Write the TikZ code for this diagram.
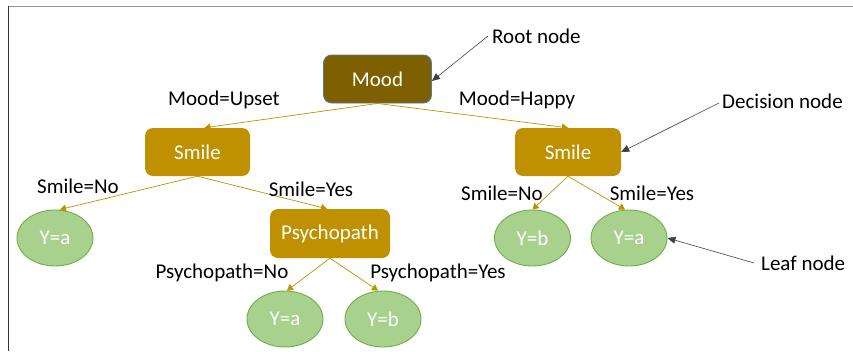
\documentclass[tikz,border=0pt]{standalone}
\usepackage{fontspec}
\setmainfont{Carlito}
\usetikzlibrary{arrows.meta,shapes.geometric}
\definecolor{darkgold}{HTML}{7F6000}
\definecolor{gold}{HTML}{BF9000}
\definecolor{leaffill}{HTML}{A9D18E}
\definecolor{leafedge}{HTML}{70AD47}
\definecolor{rootedge}{HTML}{5B7C99}
\begin{document}
\begin{tikzpicture}[x=1pt,y=-1pt,
  font=\fontsize{21}{24}\selectfont,
  decbox/.style={rectangle,rounded corners=8pt,fill=gold,text=white,inner sep=0pt},
  leaf/.style={ellipse,fill=leaffill,draw=leafedge,line width=0.9pt,text=white,
    minimum width=76pt,minimum height=56pt,inner sep=0pt},
  branch/.style={draw=gold,line width=0.7pt,-{Triangle[width=7pt,length=6pt]}},
  note/.style={draw=black!75,line width=0.6pt,-{Triangle[width=7pt,length=8pt]}},
  lbl/.style={inner sep=0pt,text=black}]
\useasboundingbox (0,0) rectangle (853,351);
% frame
\draw[gray!85,line width=1.4pt] (8,6.5) -- (853,6.5);
\draw[black!80,line width=1.2pt] (8.3,6) -- (8.3,351);

% decision nodes
\node[decbox,fill=darkgold,draw=rootedge,line width=0.9pt,minimum width=108pt,minimum height=48pt] (mood) at (377.5,79) {Mood};
\node[decbox,minimum width=105pt,minimum height=48pt] (smileL) at (197.5,152) {Smile};
\node[decbox,minimum width=106pt,minimum height=48pt] (smileR) at (568,152) {Smile};
\node[decbox,minimum width=120pt,minimum height=49pt] (psy) at (330,233.5) {Psychopath};

% leaves
\node[leaf] (leafA) at (55,238) {Y=a};
\node[leaf] (leafB) at (532.5,238) {Y=b};
\node[leaf] (leafC) at (629,238) {Y=a};
\node[leaf] (leafD) at (285,319) {Y=a};
\node[leaf] (leafE) at (383,319) {Y=b};

% branches
\draw[branch] (mood.south) -- ([xshift=7pt]smileL.north);
\draw[branch] (mood.south) -- (smileR.north);
\draw[branch] (smileL.south) -- ([xshift=5pt]leafA.north);
\draw[branch] (smileL.south) -- ([xshift=-3pt]psy.north);
\draw[branch] (smileR.south) -- (leafB.north);
\draw[branch] (smileR.south) -- ([xshift=-4pt]leafC.north);
\draw[branch] (psy.south) -- ([xshift=2pt]leafD.north);
\draw[branch] (psy.south) -- ([xshift=-5pt]leafE.north);

% branch labels
\node[lbl] (l1) at (224,100) {Mood=Upset};
\node[lbl] (l2) at (517,100) {Mood=Happy};
\node[lbl] (l3) at (78,186) {Smile=No};
\node[lbl] (l4) at (311,189) {Smile=Yes};
\node[lbl] (l5) at (502,193) {Smile=No};
\node[lbl] (l6) at (652,193) {Smile=Yes};
\node[lbl] (l7) at (222,273) {Psychopath=No};
\node[lbl] (l8) at (438,273) {Psychopath=Yes};

% annotations
\node[lbl,anchor=west] (root) at (492,36) {Root node};
\node[lbl,anchor=west] (dec) at (722,101) {Decision node};
\node[lbl,anchor=west] (lf) at (761,263) {Leaf node};
\coordinate (rootS) at (488,36);
\coordinate (decS) at (719,103);
\coordinate (lfS) at (754,263);
\draw[note] (rootS) -- ([yshift=-2pt]mood.east);
\draw[note] (decS) -- (smileR.east);
\draw[note] (lfS) -- (leafC.east);
\end{tikzpicture}
\end{document}
